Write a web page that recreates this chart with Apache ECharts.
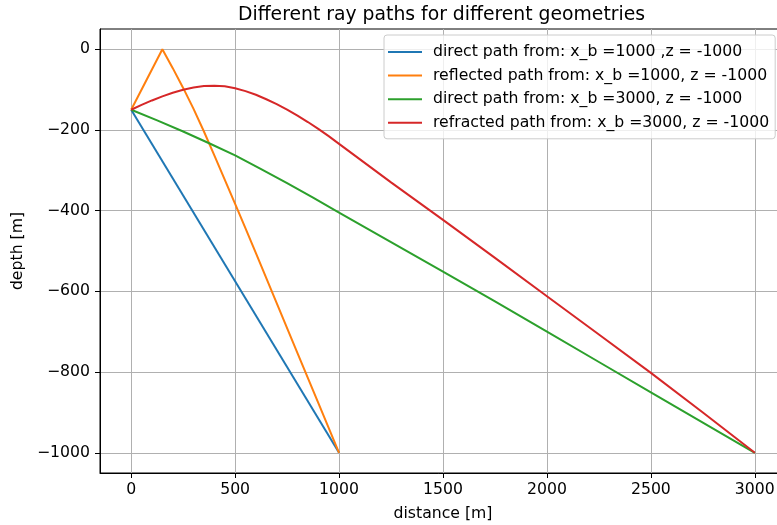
<!DOCTYPE html>
<html>
<head>
<meta charset="utf-8">
<script src="https://cdn.jsdelivr.net/npm/echarts@6/dist/echarts.min.js"></script>
<style>
html,body{margin:0;padding:0;background:#fff;}
#chart{width:777px;height:525px;}
</style>
</head>
<body>
<div id="chart"></div>
<script>
// ---- data ----
const xTicks = [0, 500, 1000, 1500, 2000, 2500, 3000];
const yTicks = [-1000, -800, -600, -400, -200, 0];

const names = [
  'direct path from: x_b =1000 ,z = -1000',
  'reflected path from: x_b =1000, z = -1000',
  'direct path from: x_b =3000, z = -1000',
  'refracted path from: x_b =3000, z = -1000'
];

const directNearX = [0, 1000];
const directNearY = [-150, -1000];

const reflectedX = [0, 75, 150, 200, 250, 300, 350, 400, 450, 500, 550, 600, 700, 800, 900, 1000];
const reflectedY = [-150, -75, 0, -47, -96, -148, -204, -263, -323, -383, -444, -505, -629, -753, -876, -1000];

const directFarX = [0, 125, 250, 375, 500, 625, 750, 875, 1000, 1250, 1500, 1750, 2000, 2250, 2500, 2750, 3000];
const directFarY = [-150, -176.5, -204, -233, -263, -297, -332, -368, -405, -478, -551, -625, -700, -775, -850, -925, -1000];

const refractedX = [0, 50, 100, 150, 200, 250, 300, 350, 400, 450, 500, 550, 600, 650, 700, 750, 800, 850, 900, 950, 1000, 1250, 1500, 1750, 2000, 2250, 2500, 2750, 3000];
const refractedY = [-150, -138, -127, -117, -108, -100.5, -95, -91.5, -90.5, -92, -97, -104, -113, -124, -136, -149.5, -164.5, -180.5, -197.5, -215.5, -234.5, -330, -423, -517, -612, -707, -802, -900, -1000];

const colors = ['#1f77b4', '#ff7f0e', '#2ca02c', '#d62728'];

function pairs(xs, ys) { return xs.map((x, i) => [x, ys[i]]); }
const seriesData = [
  pairs(directNearX, directNearY),
  pairs(reflectedX, reflectedY),
  pairs(directFarX, directFarY),
  pairs(refractedX, refractedY)
];

const FONT = 'DejaVu Sans';
const FS = 15.7;
const minus = v => String(v).replace('-', '\u2212');

const chart = echarts.init(document.getElementById('chart'), null, {renderer: 'canvas'});
chart.setOption({
  animation: false,
  backgroundColor: '#fff',
  title: {
    text: 'Different ray paths for different geometries',
    left: 233, top: 1,
    textStyle: {fontFamily: FONT, fontSize: 18.8, fontWeight: 'normal', color: '#000'}
  },
  legend: {
    orient: 'vertical',
    left: 384, top: 35,
    padding: [9, 6, 8, 4],
    itemGap: 7.6,
    itemWidth: 34, itemHeight: 2,
    icon: 'rect',
    backgroundColor: 'rgba(255,255,255,0.8)',
    borderColor: '#cccccc', borderWidth: 1, borderRadius: 3,
    textStyle: {fontFamily: FONT, fontSize: FS, color: '#000', padding: [0,0,0,6]},
    data: names
  },
  grid: {
    left: 100, top: 29, width: 686, bottom: 52,
    outerBoundsMode: 'none', containLabel: false,
    show: true, borderColor: '#000', borderWidth: 1, backgroundColor: '#fff'
  },
  xAxis: {
    type: 'value', min: -150, max: 3150,
    name: 'distance [m]', nameLocation: 'middle', nameGap: 33,
    nameTextStyle: {fontFamily: FONT, fontSize: FS, color: '#000'},
    axisLine: {show: true, onZero: false, lineStyle: {color: '#000', width: 1}},
    axisTick: {show: true, inside: false, length: 5, customValues: xTicks, lineStyle: {color: '#000', width: 1}},
    axisLabel: {customValues: xTicks, margin: 9, color: '#000', fontFamily: FONT, fontSize: FS, formatter: minus},
    splitLine: {show: true, lineStyle: {color: '#b0b0b0', width: 1}}
  },
  yAxis: {
    type: 'value', min: -1050, max: 50,
    name: 'depth [m]', nameLocation: 'middle', nameGap: 71, nameRotate: 90,
    nameTextStyle: {fontFamily: FONT, fontSize: FS, color: '#000'},
    axisLine: {show: true, onZero: false, lineStyle: {color: '#000', width: 1}},
    axisTick: {show: true, inside: false, length: 5, customValues: yTicks, lineStyle: {color: '#000', width: 1}},
    axisLabel: {customValues: yTicks, margin: 10, color: '#000', fontFamily: FONT, fontSize: FS, formatter: minus},
    splitLine: {show: true, lineStyle: {color: '#b0b0b0', width: 1}}
  },
  series: names.map((n, i) => ({
    name: n, type: 'line', data: seriesData[i],
    symbol: 'none', smooth: false,
    lineStyle: {color: colors[i], width: 2},
    itemStyle: {color: colors[i]},
    z: 2 + i
  }))
});
</script>
</body>
</html>
